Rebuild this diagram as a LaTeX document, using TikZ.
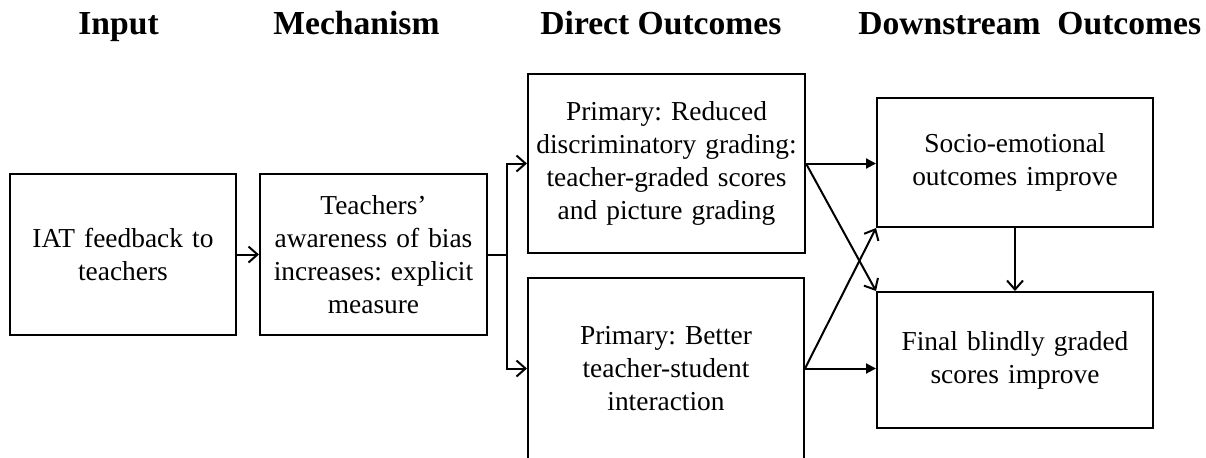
\documentclass[tikz,border=0pt]{standalone}
\usepackage{fontspec}
\setmainfont{Liberation Serif}
\usetikzlibrary{arrows.meta,positioning}

\tikzset{
  box/.style={draw, line width=1pt, rectangle, align=center, inner sep=1pt,
    font=\fontsize{13.7}{16.5}\selectfont\frenchspacing},
  head/.style={anchor=base west, inner sep=0pt, font=\fontsize{16.8}{20}\selectfont\bfseries},
  link/.style={line width=1pt, -{Straight Barb[length=4.5pt,width=8pt,line width=1pt]}},
  flink/.style={line width=1pt, -{Triangle[length=5pt,width=5pt]}}
}

\begin{document}
\begin{tikzpicture}[x=0.5pt, y=-0.5pt]
  \useasboundingbox (0,0) rectangle (1206,457);
  % column headings
  \node[head] (hIn)   at (78,34)  {Input};
  \node[head] (hMech) at (273,34) {Mechanism};
  \node[head] (hDir)  at (540,34) {Direct Outcomes};
  \node[head] (hDown) at (858,34) {Downstream\ \ Outcomes};

  % boxes
  \node[box, minimum width=113pt, minimum height=80.5pt, text width=110pt] (iat)
    at (123,254.5) {IAT feedback to\\teachers};
  \node[box, minimum width=113.5pt, minimum height=80.5pt, text width=110pt] (aware)
    at (373.5,254.5) {Teachers'\\awareness of bias\\increases: explicit\\measure};
  \node[box, minimum width=138.5pt, minimum height=89.5pt, text width=136pt] (grading)
    at (666.5,163.5) {Primary: Reduced\\discriminatory grading:\\teacher-graded scores\\and picture grading};
  \begin{scope}
    \clip (0,0) rectangle (1206,457);
    \node[box, minimum width=138pt, minimum height=91pt, text width=136pt] (inter)
      at (666,368.5) {Primary: Better\\teacher-student\\interaction};
  \end{scope}
  \node[box, minimum width=138pt, minimum height=64.5pt, text width=136pt] (socio)
    at (1015,162.5) {Socio-emotional\\outcomes improve};
  \node[box, minimum width=138pt, minimum height=68pt, text width=136pt] (final)
    at (1015,360) {Final blindly graded\\scores improve};

  % connectors
  \draw[link] (iat) -- (aware);
  \coordinate (fork) at (507,254.5);
  \draw[line width=1pt] (aware.east) -- (fork);
  \draw[link] (fork) |- (grading.west);
  \draw[link] (fork) |- (inter.west);
  \draw[flink] (grading.east) -- (grading.east -| socio.west);
  \draw[link] (grading.east) -- (final.north west);
  \draw[flink] (inter.east) -- (inter.east -| final.west);
  \draw[link] (inter.east) -- (socio.south west);
  \draw[link] (socio) -- (final);
\end{tikzpicture}
\end{document}
